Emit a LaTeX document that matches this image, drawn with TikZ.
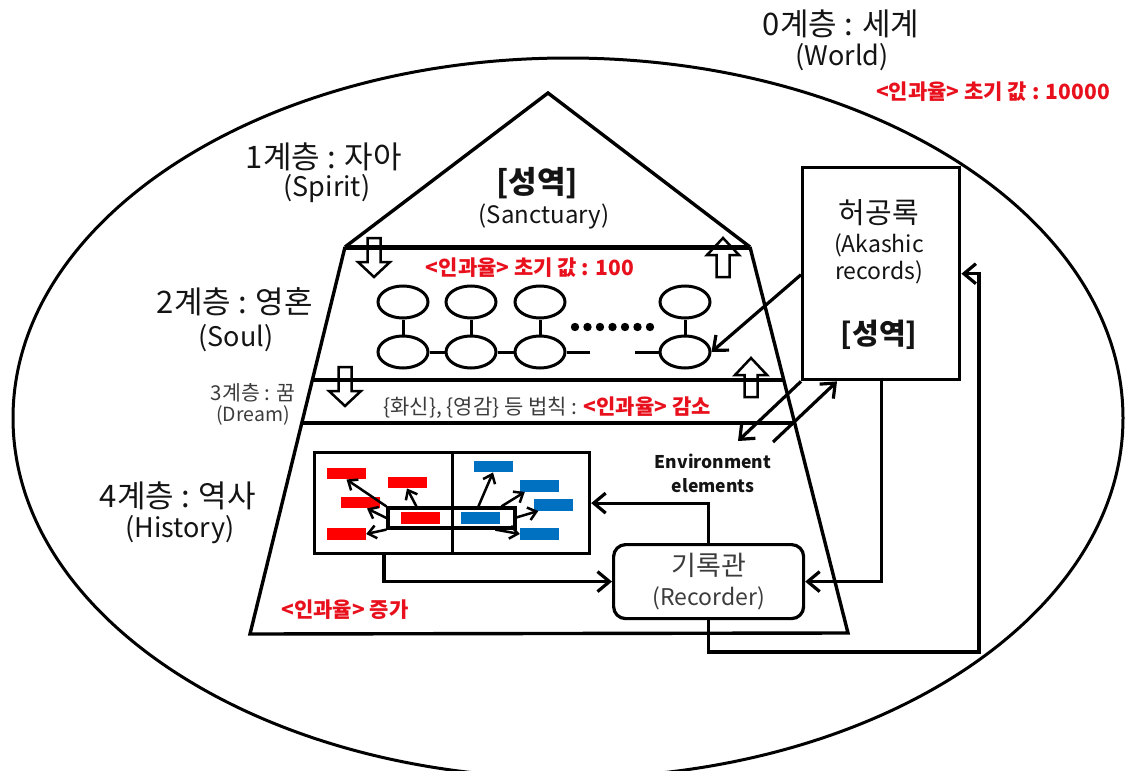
\documentclass[tikz,border=0pt]{standalone}
\usepackage{fontspec}
\setmainfont{Noto Sans CJK KR}
\usetikzlibrary{arrows.meta,shapes.geometric}
\definecolor{ink}{RGB}{20,20,20}
\definecolor{softink}{RGB}{60,60,60}
\definecolor{redtxt}{RGB}{232,16,28}
\definecolor{redbox}{RGB}{255,0,0}
\definecolor{bluebox}{RGB}{0,112,192}
\begin{document}
\begin{tikzpicture}[x=1pt,y=-1pt,
  outline/.style={draw=black,line width=3.4pt},
  conn/.style={draw=black,line width=3.2pt,-{Straight Barb[length=12pt,width=20pt]}},
  sarrow/.style={draw=black,line width=2.5pt,-{Straight Barb[length=8pt,width=13pt]}},
  soul/.style={ellipse,draw=black,line width=3pt,minimum width=50pt,minimum height=32pt,inner sep=0pt},
  redrect/.style={fill=redbox,minimum width=39pt,minimum height=11.5pt,inner sep=0pt},
  bluerect/.style={fill=bluebox,minimum width=39pt,minimum height=11.5pt,inner sep=0pt},
  blockarrow/.style={draw=black,fill=white,line width=2.5pt},
  krlabel/.style={text=ink,font=\fontsize{31}{34}\selectfont,inner sep=0pt},
  enlabel/.style={text=ink,font=\fontsize{27}{30}\selectfont,inner sep=0pt},
  redlabel/.style={text=redtxt,font=\fontsize{21}{24}\selectfont\bfseries,inner sep=0pt},
  hdown/.pic={\draw[blockarrow] (-6.5,0) -- (6.5,0) -- (6.5,24) -- (16,24) -- (0,39) -- (-16,24) -- (-6.5,24) -- cycle;},
  hup/.pic={\draw[blockarrow] (-6.5,39) -- (6.5,39) -- (6.5,17) -- (16,17) -- (0,0) -- (-16,17) -- (-6.5,17) -- cycle;}
]
\useasboundingbox (0,0) rectangle (1125,771);
\clip (0,0) rectangle (1125,771);

% world ellipse
\draw[line width=3pt] (568,418) ellipse [x radius=555pt, y radius=360pt];

% block arrows
\pic at (374,238) {hdown};
\pic at (723,238) {hup};
\pic at (345,367) {hdown};
\pic at (751,358) {hup};

% pyramid
\coordinate (TL) at (345,247);
\coordinate (TR) at (750,247);
\coordinate (BL) at (250,634);
\coordinate (BR) at (848,633);
\coordinate (apex) at (548,93);
\draw[outline] (TL) -- (apex) -- (TR);
\draw[outline] (TL) -- (BL) -- (BR) -- (TR);
\draw[draw=black,line width=5pt] (TL) -- (TR);
\draw[outline] (intersection of TL--BL and 0,380--1000,380) -- (intersection of TR--BR and 0,380--1000,380);
\draw[outline] (intersection of TL--BL and 0,423--1000,423) -- (intersection of TR--BR and 0,423--1000,423);

% labels
\node[krlabel] (l0a) at (841,24) {0계층 : 세계};
\node[enlabel] (l0b) at (842,57) {(World)};
\node[redlabel] (r0) at (993,92) {<인과율> 초기 값 : 10000};
\node[krlabel] (l1a) at (324,157) {1계층 : 자아};
\node[enlabel] (l1b) at (327,189) {(Spirit)};
\node[text=ink,font=\fontsize{31}{34}\selectfont\bfseries,inner sep=0pt] (sa) at (537,183) {[성역]};
\node[text=ink,font=\fontsize{24}{28}\selectfont,inner sep=0pt] (sb) at (544,216) {(Sanctuary)};
\node[krlabel] (l2a) at (235,302) {2계층 : 영혼};
\node[enlabel] (l2b) at (236,338) {(Soul)};
\node[text=softink,font=\fontsize{20.5}{24}\selectfont,inner sep=0pt] (l3a) at (253,393) {3계층 : 꿈};
\node[text=softink,font=\fontsize{19.5}{24}\selectfont,inner sep=0pt] (l3b) at (253,415) {(Dream)};
\node[krlabel] (l4a) at (178,496) {4계층 : 역사};
\node[enlabel] (l4b) at (180,530) {(History)};
\node[redlabel] (r1) at (530,268) {<인과율> 초기 값 : 100};
\node[inner sep=0pt,font=\fontsize{21}{24}\selectfont] (r2) at (547,408) {\textcolor{softink}{\{화신\}, \{영감\} 등 법칙 :} \textcolor{redtxt}{\bfseries <인과율> 감소}};
\node[redlabel] (r3) at (345,610) {<인과율> 증가};

% souls
\foreach \n/\x in {1/403,2/471,3/540,4/685}{
  \node[soul] (s\n t) at (\x,302) {};
  \node[soul] (s\n b) at (\x,352) {};
  \draw[line width=3pt] (s\n t) -- (s\n b);
}
\draw[line width=3pt] (s1b) -- (s2b);
\draw[line width=3pt] (s2b) -- (s3b);
\coordinate (gapL) at (590,352);
\coordinate (gapR) at (635,352);
\draw[line width=3pt] (s3b) -- (gapL);
\draw[line width=3pt] (gapR) -- (s4b);
\foreach \i in {0,...,6} \fill (575+12.5*\i,327) circle (4.2pt);

% akashic records
\node[draw=black,line width=3.4pt,minimum width=157pt,minimum height=212pt,inner sep=0pt,anchor=north west,fill=white] (ak) at (801,166) {};
\node[text=ink,font=\fontsize{29}{32}\selectfont,inner sep=0pt] (ak1) at (879,213) {허공록};
\node[text=ink,font=\fontsize{23}{28}\selectfont,inner sep=0pt] (ak2) at (879,245) {(Akashic};
\node[text=ink,font=\fontsize{23}{28}\selectfont,inner sep=0pt] (ak3) at (879,272) {records)};
\node[text=ink,font=\fontsize{29}{32}\selectfont\bfseries,inner sep=0pt] (ak4) at (879,335) {[성역]};

% history box
\node[draw=black,line width=3.2pt,minimum width=275pt,minimum height=101pt,inner sep=0pt,anchor=north west] (hist) at (313,451) {};
\draw[line width=3.2pt] (hist.north) -- (hist.south);
\node[redrect] (R1) at (346.5,473.5) {};
\node[redrect] (R2) at (407,482.5) {};
\node[redrect] (R3) at (360,502.5) {};
\node[redrect] (R4) at (346.5,534) {};
\node[redrect] (R5) at (420.5,518) {};
\node[bluerect] (B1) at (493,466.5) {};
\node[bluerect] (B2) at (539.5,486) {};
\node[bluerect] (B3) at (553,505) {};
\node[bluerect] (B4) at (539.5,534) {};
\node[bluerect] (B5) at (480.5,518) {};
\node[draw=black,line width=3.2pt,minimum width=127pt,minimum height=20pt,inner sep=0pt] (hl) at (451.5,518) {};
\draw[sarrow] (hl.north west) -- (R1.south);
\draw[sarrow] (hl.west) -- ([xshift=7pt]R3.south);
\draw[sarrow] ([xshift=30pt]hl.north west) -- (R2.south);
\draw[sarrow] (hl.south west) -- (R4.east);
\draw[sarrow] ([xshift=92pt]hl.north west) -- (B1.south);
\draw[sarrow] ([xshift=115pt]hl.north west) -- ([xshift=5pt]B2.south west);
\draw[sarrow] ([xshift=-2pt]hl.east) -- ([xshift=5pt]B3.south west);
\draw[sarrow] ([xshift=109pt]hl.south west) -- (B4.west);

% recorder
\node[draw=black,line width=3.2pt,rounded corners=12pt,minimum width=190pt,minimum height=74pt,inner sep=0pt,anchor=north west,align=center,text=softink,font=\fontsize{23}{30}\selectfont] (rec) at (612,543) {{\fontsize{27}{30}\selectfont 기록관}\\(Recorder)};

% environment
\node[text=ink,font=\fontsize{17.5}{24}\selectfont\bfseries,align=center,inner sep=0pt] (env) at (713,473) {Environment\\elements};
\coordinate (env1) at (738,441);
\coordinate (env2) at (773,442);

% connectors
\draw[conn] ([xshift=71pt]hist.south west) |- (rec.west);
\draw[conn] (rec.north) |- (hist.east);
\draw[conn] (ak.south) |- (rec.east);
\coordinate (loopc) at (979,652);
\draw[conn] (rec.south) |- (loopc) |- (ak.east);
\draw[conn] ([yshift=-1pt]ak.west) -- (s4b.east);
\draw[conn] (ak.south west) -- (env1);
\draw[conn] (env2) -- ([xshift=36pt]ak.south west);
\end{tikzpicture}
\end{document}
